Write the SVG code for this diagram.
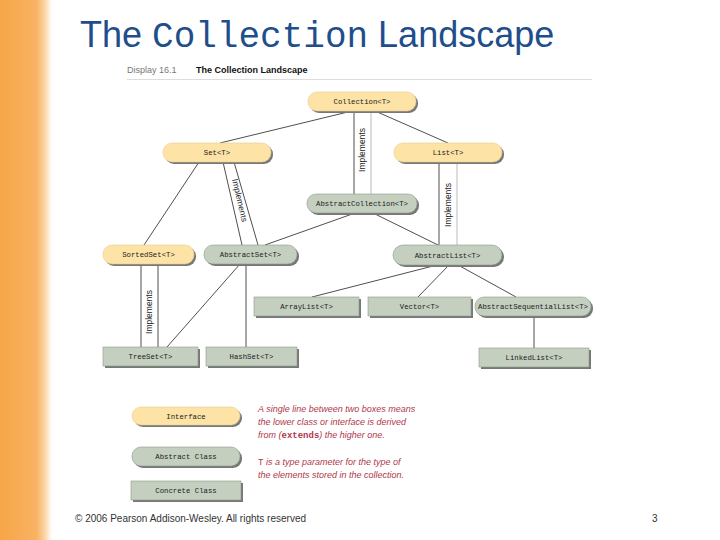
<svg xmlns="http://www.w3.org/2000/svg" width="720" height="540" viewBox="0 0 720 540">
<defs>
<linearGradient id="strip" x1="0" y1="0" x2="1" y2="0">
<stop offset="0" stop-color="#f6a646"/>
<stop offset="0.7" stop-color="#f8b263"/>
<stop offset="0.85" stop-color="#fbd3a0"/>
<stop offset="1" stop-color="#ffffff"/>
</linearGradient>
<style>
.title{font-family:"Liberation Sans",Arial,sans-serif;font-size:36px;fill:#1f4e8c}
.mono{font-family:"Liberation Mono","Courier New",monospace}
.nt{font-family:"Liberation Mono","Courier New",monospace;font-size:7.3px;fill:#222;text-anchor:middle}
.sh{fill:#777}
.iface{fill:#fde3a5;stroke:#e8cf94;stroke-width:0.6}
.abs{fill:#c4cfbf;stroke:#8c9a8a;stroke-width:0.6}
.conc{fill:#c4cfbf;stroke:#8c9a8a;stroke-width:0.6}
.ln{stroke:#222;stroke-width:0.8;fill:none}
.lg{stroke:#aaa;stroke-width:0.8;fill:none}
.impl{font-family:"Liberation Sans",Arial,sans-serif;font-size:8.5px;fill:#222;text-anchor:middle}
.leg{font-family:"Liberation Sans",Arial,sans-serif;font-size:9px;font-style:italic;fill:#b0374a}
.foot{font-family:"Liberation Sans",Arial,sans-serif;font-size:10px;fill:#333}
</style>
</defs>
<rect width="720" height="540" fill="#fff"/>
<rect x="0" y="0" width="52" height="540" fill="url(#strip)"/>

<text class="title" x="80" y="47">The <tspan class="mono">Collection</tspan> Landscape</text>

<text x="127" y="73" font-family="Liberation Sans,Arial,sans-serif" font-size="9" fill="#777">Display 16.1</text>
<text x="196" y="73" font-family="Liberation Sans,Arial,sans-serif" font-size="9" font-weight="bold" fill="#111">The Collection Landscape</text>
<line x1="127" y1="79.5" x2="592" y2="79.5" stroke="#ddd" stroke-width="1"/>

<g id="connectors">
<line class="ln" x1="352" y1="111" x2="220" y2="143"/>
<line class="ln" x1="375" y1="111" x2="448" y2="143"/>
<line class="ln" x1="354" y1="111" x2="354" y2="194"/>
<line class="lg" x1="371" y1="111" x2="371" y2="194"/>
<text class="impl" transform="translate(365,150) rotate(-90)">Implements</text>
<line class="ln" x1="439" y1="162" x2="439" y2="245"/>
<line class="lg" x1="457" y1="162" x2="457" y2="245"/>
<text class="impl" transform="translate(451,205) rotate(-90)">Implements</text>
<line class="ln" x1="199" y1="162" x2="144" y2="245"/>
<line class="ln" x1="223" y1="162" x2="242" y2="245"/>
<line class="ln" x1="234" y1="162" x2="258" y2="245"/>
<text class="impl" transform="translate(237,201) rotate(77)">Implements</text>
<line class="ln" x1="355" y1="213" x2="265" y2="245"/>
<line class="ln" x1="373" y1="213" x2="438" y2="245"/>
<line class="ln" x1="141" y1="264" x2="141" y2="347"/>
<line class="ln" x1="158" y1="264" x2="158" y2="347"/>
<text class="impl" transform="translate(152,312) rotate(-90)">Implements</text>
<line class="ln" x1="240" y1="264" x2="167" y2="347"/>
<line class="ln" x1="246" y1="264" x2="246" y2="347"/>
<line class="ln" x1="437" y1="265" x2="312" y2="297"/>
<line class="ln" x1="449" y1="265" x2="418" y2="297"/>
<line class="ln" x1="458" y1="265" x2="516" y2="297"/>
<line class="ln" x1="534" y1="316" x2="534" y2="348"/>
</g>

<g id="collection">
<rect class="sh" x="310" y="94" width="108" height="19" rx="9"/>
<rect class="iface" x="308" y="92" width="108" height="19" rx="9"/>
<text class="nt" x="362" y="104">Collection&lt;T&gt;</text>
</g>
<g id="set">
<rect class="sh" x="165" y="145" width="108" height="19" rx="9"/>
<rect class="iface" x="163" y="143" width="108" height="19" rx="9"/>
<text class="nt" x="217" y="155">Set&lt;T&gt;</text>
</g>
<g id="list">
<rect class="sh" x="396" y="145" width="108" height="19" rx="9"/>
<rect class="iface" x="394" y="143" width="108" height="19" rx="9"/>
<text class="nt" x="448" y="155">List&lt;T&gt;</text>
</g>
<g id="abstractcollection">
<rect class="sh" x="309" y="196" width="110" height="19" rx="9"/>
<rect class="abs" x="307" y="194" width="110" height="19" rx="9"/>
<text class="nt" x="362" y="206">AbstractCollection&lt;T&gt;</text>
</g>
<g id="sortedset">
<rect class="sh" x="105" y="247" width="91" height="19" rx="9"/>
<rect class="iface" x="103" y="245" width="91" height="19" rx="9"/>
<text class="nt" x="148.5" y="257">SortedSet&lt;T&gt;</text>
</g>
<g id="abstractset">
<rect class="sh" x="206" y="247" width="93" height="19" rx="9"/>
<rect class="abs" x="204" y="245" width="93" height="19" rx="9"/>
<text class="nt" x="250.5" y="257">AbstractSet&lt;T&gt;</text>
</g>
<g id="abstractlist">
<rect class="sh" x="395" y="247" width="109" height="20" rx="10"/>
<rect class="abs" x="393" y="245" width="109" height="20" rx="10"/>
<text class="nt" x="447.5" y="257.5">AbstractList&lt;T&gt;</text>
</g>
<g id="arraylist">
<rect class="sh" x="256" y="299" width="105" height="19"/>
<rect class="conc" x="254" y="297" width="105" height="19"/>
<text class="nt" x="306.5" y="309">ArrayList&lt;T&gt;</text>
</g>
<g id="vector">
<rect class="sh" x="370" y="299" width="103" height="19"/>
<rect class="conc" x="368" y="297" width="103" height="19"/>
<text class="nt" x="419.5" y="309">Vector&lt;T&gt;</text>
</g>
<g id="abstractsequentiallist">
<rect class="sh" x="477" y="299" width="116" height="19" rx="9"/>
<rect class="abs" x="475" y="297" width="116" height="19" rx="9"/>
<text class="nt" x="533" y="309" textLength="110" lengthAdjust="spacingAndGlyphs">AbstractSequentialList&lt;T&gt;</text>
</g>
<g id="treeset">
<rect class="sh" x="105" y="349" width="95" height="19"/>
<rect class="conc" x="103" y="347" width="95" height="19"/>
<text class="nt" x="150.5" y="359">TreeSet&lt;T&gt;</text>
</g>
<g id="hashset">
<rect class="sh" x="208" y="349" width="91" height="19"/>
<rect class="conc" x="206" y="347" width="91" height="19"/>
<text class="nt" x="251.5" y="359">HashSet&lt;T&gt;</text>
</g>
<g id="linkedlist">
<rect class="sh" x="481" y="350" width="110" height="19"/>
<rect class="conc" x="479" y="348" width="110" height="19"/>
<text class="nt" x="534" y="360">LinkedList&lt;T&gt;</text>
</g>

<g id="legend-interface">
<rect class="sh" x="134" y="409" width="108" height="18" rx="9"/>
<rect class="iface" x="132" y="407" width="108" height="18" rx="9"/>
<text class="nt" x="186" y="418.5">Interface</text>
</g>
<g id="legend-abstract">
<rect class="sh" x="134" y="449" width="108" height="19" rx="9"/>
<rect class="abs" x="132" y="447" width="108" height="19" rx="9"/>
<text class="nt" x="186" y="459">Abstract Class</text>
</g>
<g id="legend-concrete">
<rect class="sh" x="133" y="483" width="110" height="19"/>
<rect class="conc" x="131" y="481" width="110" height="19"/>
<text class="nt" x="186" y="493">Concrete Class</text>
</g>

<g id="legend-text">
<text class="leg" x="258" y="412">A single line between two boxes means</text>
<text class="leg" x="258" y="425">the lower class or interface is derived</text>
<text class="leg" x="258" y="438">from (<tspan font-family="Liberation Mono,monospace" font-style="normal" font-weight="bold">extends</tspan>) the higher one.</text>
<text class="leg" x="258" y="465"><tspan font-family="Liberation Mono,monospace" font-style="normal">T</tspan> is a type parameter for the type of</text>
<text class="leg" x="258" y="478">the elements stored in the collection.</text>
</g>

<text class="foot" x="75" y="522">© 2006 Pearson Addison-Wesley. All rights reserved</text>
<text class="foot" x="652" y="522">3</text>
</svg>
